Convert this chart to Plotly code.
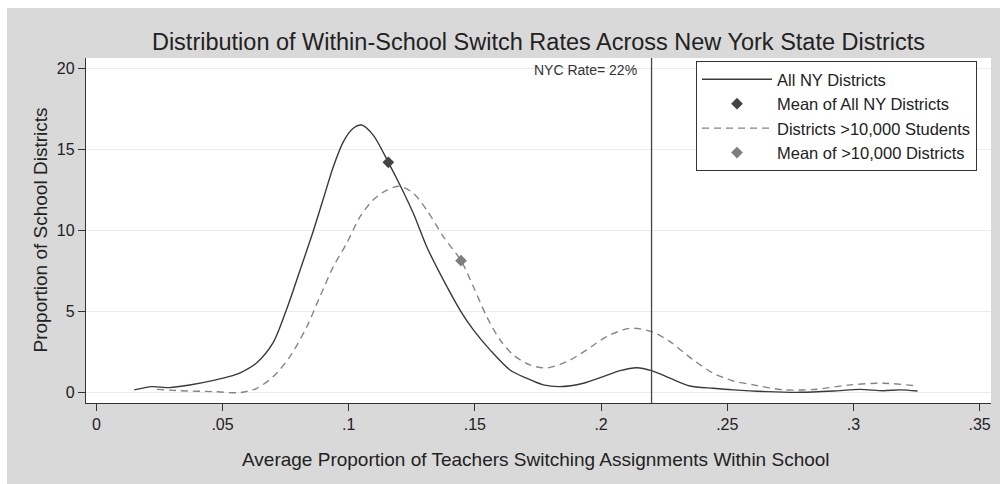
import plotly.graph_objects as go

# ---- data ----
all_x = [0.015, 0.022, 0.029, 0.037, 0.046, 0.054, 0.057, 0.0636, 0.0701, 0.0754, 0.0807, 0.086,
         0.0899, 0.0939, 0.0979, 0.1018, 0.1051, 0.1097, 0.1157, 0.1203, 0.1256, 0.1309, 0.1375,
         0.1441, 0.1494, 0.156, 0.1639, 0.1705, 0.1771, 0.1837, 0.193, 0.2009, 0.2075, 0.2141,
         0.22, 0.2273, 0.2352, 0.2444, 0.2524, 0.2656, 0.279, 0.292, 0.3026, 0.3118, 0.3184, 0.3254]
all_y = [0.17, 0.37, 0.31, 0.47, 0.74, 1.05, 1.22, 1.85, 3.1, 5.15, 7.55, 10.0,
         11.95, 13.95, 15.5, 16.32, 16.52, 15.9, 14.22, 12.82, 11.07, 9.01, 6.96,
         5.1, 3.87, 2.64, 1.4, 0.89, 0.48, 0.37, 0.58, 0.99, 1.36, 1.54,
         1.36, 0.89, 0.41, 0.27, 0.17, 0.06, 0.02, 0.1, 0.2, 0.12, 0.17, 0.1]

big_x = [0.024, 0.0332, 0.0464, 0.057, 0.0636, 0.0701, 0.0767, 0.0834, 0.0886, 0.0939, 0.0992,
         0.1045, 0.1097, 0.1151, 0.1203, 0.1256, 0.1309, 0.1375, 0.1445, 0.1494, 0.1547, 0.16,
         0.1652, 0.1718, 0.1784, 0.1864, 0.1943, 0.2022, 0.2114, 0.22, 0.2273, 0.2365, 0.2444,
         0.2524, 0.2603, 0.2722, 0.2854, 0.2986, 0.3118, 0.3254]
big_y = [0.2, 0.12, 0.06, 0.0, 0.27, 0.99, 2.22, 4.07, 5.93, 7.78, 9.22,
         10.86, 11.9, 12.51, 12.74, 12.31, 11.28, 9.63, 8.15, 6.54, 4.69, 3.25,
         2.33, 1.71, 1.52, 1.91, 2.64, 3.46, 3.97, 3.77, 3.15, 2.02, 1.2,
         0.72, 0.48, 0.17, 0.21, 0.48, 0.58, 0.41]

mean_all = [0.1157, 14.22]
mean_big = [0.1445, 8.15]
nyc_rate = 0.22

x_tickvals = [0, 0.05, 0.10, 0.15, 0.20, 0.25, 0.30, 0.35]
x_ticktext = ["0", ".05", ".1", ".15", ".2", ".25", ".3", ".35"]
y_tickvals = [0, 5, 10, 15, 20]

FONT = "Liberation Sans, Arial, Helvetica, sans-serif"
DARK = "#333333"
TXT = "#222222"

fig = go.Figure()
fig.add_trace(go.Scatter(x=all_x, y=all_y, mode="lines", name="All NY Districts",
                         line=dict(color="#3a3a3a", width=1.4, shape="spline", smoothing=0.8)))
fig.add_trace(go.Scatter(x=[mean_all[0]], y=[mean_all[1]], mode="markers",
                         name="Mean of All NY Districts",
                         marker=dict(symbol="diamond", size=9, color="#444444")))
fig.add_trace(go.Scatter(x=big_x, y=big_y, mode="lines", name="Districts >10,000 Students",
                         line=dict(color="#858585", width=1.4, dash="7px,5px",
                                   shape="spline", smoothing=0.8)))
fig.add_trace(go.Scatter(x=[mean_big[0]], y=[mean_big[1]], mode="markers",
                         name="Mean of >10,000 Districts",
                         marker=dict(symbol="diamond", size=9, color="#7d7d7d")))

# NYC vertical line
fig.add_shape(type="line", xref="x", yref="paper", x0=nyc_rate, x1=nyc_rate, y0=0, y1=1,
              line=dict(color="#444444", width=1.3))
fig.add_annotation(x=nyc_rate, xref="x", y=0.995, yref="paper", text="NYC Rate= 22%",
                   showarrow=False, xanchor="right", yanchor="top", xshift=-13,
                   font=dict(family=FONT, size=14, color=DARK))

# white outer strips (top and left) around the grey frame
fig.add_shape(type="rect", xref="paper", yref="paper", x0=-0.2, x1=1.2, y0=1.1449, y1=1.3,
              fillcolor="white", line=dict(width=0), layer="below")
fig.add_shape(type="rect", xref="paper", yref="paper", x0=-0.2, x1=-0.0873, y0=-0.5, y1=1.3,
              fillcolor="white", line=dict(width=0), layer="below")

# axis titles
fig.add_annotation(x=0.4975, xref="paper", y=(403 - 459) / 345, yref="paper",
                   text="Average Proportion of Teachers Switching Assignments Within School",
                   showarrow=False, xanchor="center", yanchor="middle",
                   font=dict(family=FONT, size=19, color=TXT))
fig.add_annotation(x=(40 - 86) / 905, xref="paper", y=0.5, yref="paper",
                   text="Proportion of School Districts", textangle=-90,
                   showarrow=False, xanchor="center", yanchor="middle",
                   font=dict(family=FONT, size=19, color=TXT))

fig.update_layout(
    width=1000, height=484,
    margin=dict(l=86, r=9, t=58, b=81),
    paper_bgcolor="#d9d9d9",
    plot_bgcolor="white",
    title=dict(text="Distribution of Within-School Switch Rates Across New York State Districts",
               x=0.5, xref="paper", xanchor="center", y=1 - 42 / 484, yref="container",
               yanchor="middle", font=dict(family=FONT, size=23.5, color=TXT)),
    font=dict(family=FONT, color=TXT),
    showlegend=True,
    legend=dict(x=(696 - 86) / 905, y=(403 - 61) / 345, xanchor="left", yanchor="top",
                bgcolor="white", bordercolor="#333333", borderwidth=1,
                font=dict(family=FONT, size=16.5, color=TXT),
                traceorder="normal", itemwidth=70),
)
fig.update_xaxes(range=[-0.0041, 0.3545], tickvals=x_tickvals, ticktext=x_ticktext,
                 showgrid=False, zeroline=False, showline=True, linecolor=DARK, linewidth=1.3,
                 ticks="outside", ticklen=7, tickcolor=DARK, tickwidth=1.3,
                 tickfont=dict(family=FONT, size=16, color=TXT))
fig.update_yaxes(range=[-0.64, 20.66], tickvals=y_tickvals,
                 showgrid=True, gridcolor="#ebebeb", gridwidth=1, zeroline=False,
                 showline=True, linecolor=DARK, linewidth=1.3,
                 ticks="outside", ticklen=7, tickcolor=DARK, tickwidth=1.3,
                 tickfont=dict(family=FONT, size=16, color=TXT))

fig.write_html("out.html", config={"displayModeBar": False},
               post_script="document.body.style.margin='0';document.body.style.padding='0';")
